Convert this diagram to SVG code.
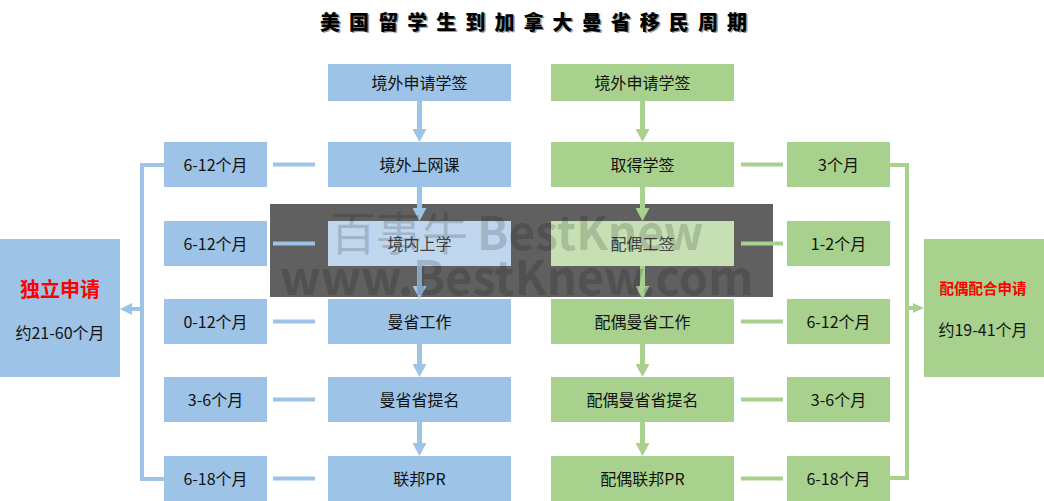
<svg xmlns="http://www.w3.org/2000/svg" width="1044" height="501" viewBox="0 0 1044 501">
<defs>
<style>
text{font-family:"Noto Sans CJK SC","Microsoft YaHei",sans-serif;}
.t{font-size:16px;fill:#111;text-anchor:middle;}
.tw{font-size:16px;fill:#444;text-anchor:middle;}
.b{fill:#9DC3E6;}
.g{fill:#A9D18E;}
.bl{fill:#BFD6EE;}
.gl{fill:#C6E0B4;}
.lb{stroke:#9DC3E6;stroke-width:4;fill:none;}
.lg{stroke:#A9D18E;stroke-width:4;fill:none;}
.ab{stroke:#9DC3E6;stroke-width:5;fill:none;marker-end:url(#mb);}
.ag{stroke:#A9D18E;stroke-width:5;fill:none;marker-end:url(#mg);}
.title{font-size:20px;font-weight:900;}
.wm{fill:#000;fill-opacity:0.18;}
</style>
<marker id="mb" markerUnits="userSpaceOnUse" markerWidth="13" markerHeight="14" viewBox="0 0 13 14" refX="0" refY="7" orient="auto"><path d="M0,0 L13,7 L0,14 z" fill="#9DC3E6"/></marker>
<marker id="mg" markerUnits="userSpaceOnUse" markerWidth="13" markerHeight="14" viewBox="0 0 13 14" refX="0" refY="7" orient="auto"><path d="M0,0 L13,7 L0,14 z" fill="#A9D18E"/></marker>
<marker id="mbs" markerUnits="userSpaceOnUse" markerWidth="12" markerHeight="12" viewBox="0 0 12 12" refX="0" refY="6" orient="auto"><path d="M0,0 L12,6 L0,12 z" fill="#9DC3E6"/></marker>
<marker id="mgs" markerUnits="userSpaceOnUse" markerWidth="11" markerHeight="10" viewBox="0 0 11 10" refX="0" refY="5" orient="auto"><path d="M0,0 L11,5 L0,10 z" fill="#A9D18E"/></marker>
</defs>
<rect width="1044" height="501" fill="#fff"/>
<g id="title">
<text class="title" x="321.5" y="31" fill="#9a9a9a" textLength="427" lengthAdjust="spacing">美国留学生到加拿大曼省移民周期</text>
<text class="title" x="320" y="29.5" fill="#000" textLength="427" lengthAdjust="spacing">美国留学生到加拿大曼省移民周期</text>
</g>
<rect id="watermark-bg" x="270" y="204" width="503" height="93" fill="#606060"/>
<g id="connectors">
<line class="ab" x1="419.5" y1="101" x2="419.5" y2="129"/>
<line class="ab" x1="419.5" y1="187" x2="419.5" y2="208"/>
<line class="ab" x1="419.5" y1="266" x2="419.5" y2="286"/>
<line class="ab" x1="419.5" y1="344" x2="419.5" y2="364"/>
<line class="ab" x1="419.5" y1="422" x2="419.5" y2="443"/>
<line class="ag" x1="642.5" y1="101" x2="642.5" y2="129"/>
<line class="ag" x1="642.5" y1="187" x2="642.5" y2="208"/>
<line class="ag" x1="642.5" y1="266" x2="642.5" y2="286"/>
<line class="ag" x1="642.5" y1="344" x2="642.5" y2="364"/>
<line class="ag" x1="642.5" y1="422" x2="642.5" y2="443"/>
<line class="lb" x1="273" y1="164.5" x2="315" y2="164.5"/>
<line class="lb" x1="273" y1="243.5" x2="315" y2="243.5" stroke="#BFD6EE"/>
<line class="lb" x1="273" y1="321.5" x2="315" y2="321.5"/>
<line class="lb" x1="273" y1="399.5" x2="315" y2="399.5"/>
<line class="lb" x1="273" y1="478.5" x2="315" y2="478.5"/>
<line class="lg" x1="741" y1="164.5" x2="783" y2="164.5"/>
<line class="lg" x1="741" y1="243.5" x2="783" y2="243.5"/>
<line class="lg" x1="741" y1="321.5" x2="783" y2="321.5"/>
<line class="lg" x1="741" y1="399.5" x2="783" y2="399.5"/>
<line class="lg" x1="741" y1="478.5" x2="783" y2="478.5"/>
<path class="lb" d="M164,165 H142 V479 H164"/>
<line stroke="#9DC3E6" stroke-width="4" x1="142" y1="309" x2="132" y2="309" marker-end="url(#mbs)"/>
<path class="lg" d="M890,165 H907 V478 H890"/>
<line stroke="#A9D18E" stroke-width="4" x1="907" y1="308" x2="913" y2="308" marker-end="url(#mgs)"/>
</g>
<g id="b1"><rect class="b" x="328" y="64" width="183" height="37"/><text class="t" x="419.5" y="88.5">境外申请学签</text></g>
<g id="b2"><rect class="b" x="328" y="142" width="183" height="45"/><text class="t" x="419.5" y="170.5">境外上网课</text></g>
<g id="b3"><rect class="bl" x="328" y="221" width="183" height="45"/><text class="tw" x="419.5" y="249.5">境内上学</text></g>
<g id="b4"><rect class="b" x="328" y="299" width="183" height="45"/><text class="t" x="419.5" y="327.5">曼省工作</text></g>
<g id="b5"><rect class="b" x="328" y="377" width="183" height="45"/><text class="t" x="419.5" y="405.5">曼省省提名</text></g>
<g id="b6"><rect class="b" x="328" y="456" width="183" height="45"/><text class="t" x="419.5" y="484.5">联邦PR</text></g>
<g id="g1"><rect class="g" x="551" y="64" width="183" height="37"/><text class="t" x="642.5" y="88.5">境外申请学签</text></g>
<g id="g2"><rect class="g" x="551" y="142" width="183" height="45"/><text class="t" x="642.5" y="170.5">取得学签</text></g>
<g id="g3"><rect class="gl" x="551" y="221" width="183" height="45"/><text class="tw" x="642.5" y="249.5">配偶工签</text></g>
<g id="g4"><rect class="g" x="551" y="299" width="183" height="45"/><text class="t" x="642.5" y="327.5">配偶曼省工作</text></g>
<g id="g5"><rect class="g" x="551" y="377" width="183" height="45"/><text class="t" x="642.5" y="405.5">配偶曼省省提名</text></g>
<g id="g6"><rect class="g" x="551" y="456" width="183" height="45"/><text class="t" x="642.5" y="484.5">配偶联邦PR</text></g>
<g id="lb1"><rect class="b" x="164" y="142" width="103" height="45"/><text class="t" x="215.5" y="170.5">6-12个月</text></g>
<g id="lb2"><rect class="b" x="164" y="221" width="103" height="45"/><text class="t" x="215.5" y="249.5">6-12个月</text></g>
<g id="lb3"><rect class="b" x="164" y="299" width="103" height="45"/><text class="t" x="215.5" y="327.5">0-12个月</text></g>
<g id="lb4"><rect class="b" x="164" y="377" width="103" height="45"/><text class="t" x="215.5" y="405.5">3-6个月</text></g>
<g id="lb5"><rect class="b" x="164" y="456" width="103" height="45"/><text class="t" x="215.5" y="484.5">6-18个月</text></g>
<g id="rg1"><rect class="g" x="787" y="142" width="103" height="45"/><text class="t" x="838.5" y="170.5">3个月</text></g>
<g id="rg2"><rect class="g" x="787" y="221" width="103" height="45"/><text class="t" x="838.5" y="249.5">1-2个月</text></g>
<g id="rg3"><rect class="g" x="787" y="299" width="103" height="45"/><text class="t" x="838.5" y="327.5">6-12个月</text></g>
<g id="rg4"><rect class="g" x="787" y="377" width="103" height="45"/><text class="t" x="838.5" y="405.5">3-6个月</text></g>
<g id="rg5"><rect class="g" x="787" y="456" width="103" height="45"/><text class="t" x="838.5" y="484.5">6-18个月</text></g>
<g id="left-summary"><rect class="b" x="0" y="239" width="120" height="138"/>
<text x="60" y="297" font-size="20" font-weight="bold" fill="#FF0000" text-anchor="middle">独立申请</text>
<text class="t" x="60" y="339">约21-60个月</text></g>
<g id="right-summary"><rect class="g" x="924" y="239" width="120" height="138"/>
<text x="983" y="293.5" font-size="14.5" font-weight="bold" fill="#FF0000" text-anchor="middle">配偶配合申请</text>
<text class="t" x="983" y="336">约19-41个月</text></g>
<g id="watermark">
<text class="wm" x="330" y="250" font-size="46" font-family="'Noto Serif CJK SC','Noto Sans CJK SC',serif">百事牛</text>
<text class="wm" x="477" y="250" font-size="46" font-weight="bold" font-family="'Liberation Sans',Arial,sans-serif">BestKnew</text>
<text class="wm" x="280" y="295" font-size="47" font-weight="bold" font-family="'Liberation Sans',Arial,sans-serif">www.BestKnew.com</text>
</g>
</svg>
